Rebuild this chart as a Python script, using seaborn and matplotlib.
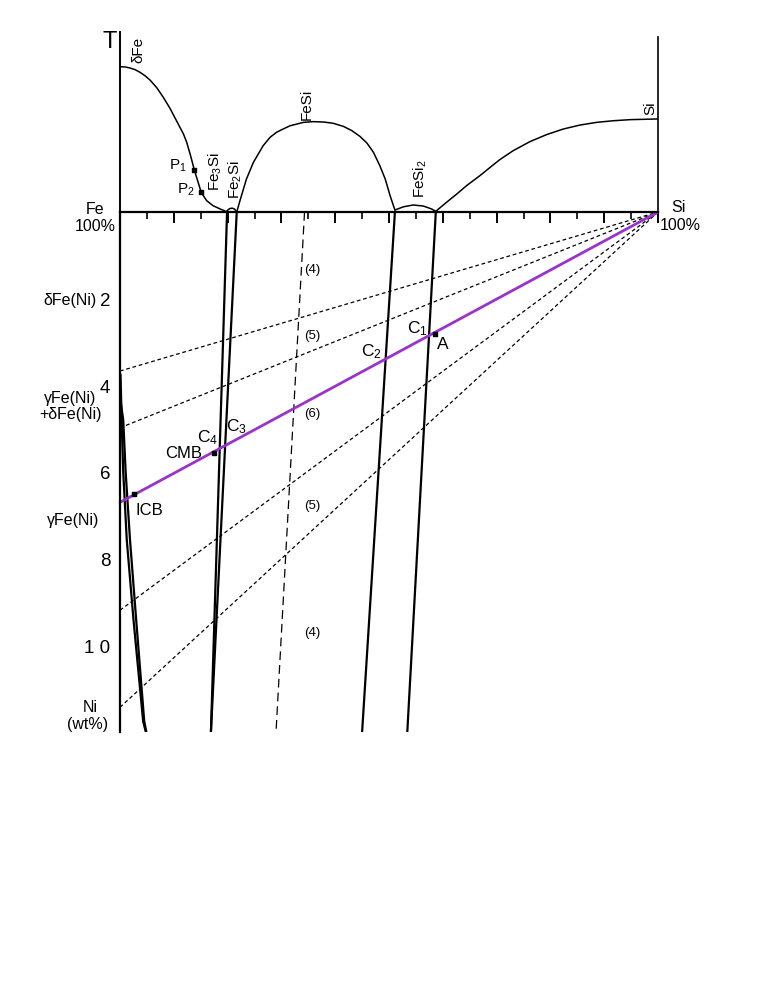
import numpy as np
import pandas as pd
import matplotlib
matplotlib.use('Agg')
import matplotlib.pyplot as plt
import seaborn as sns

# ---- data (Si wt% along x, T arbitrary 0-100 on top, Ni wt% below) ----
# liquidus curves of the Fe-Si phase diagram
dfe_si = [0, 0.93, 1.86, 2.79, 3.72, 4.65, 5.58, 6.82, 8.05, 9.29, 10.5, 11.8,
          12.4, 13.1, 13.8, 15.1, 16.1, 17.3, 18.6, 19.8]
dfe_t = [80.7, 80.6, 80.0, 79.1, 77.6, 75.7, 73.3, 69.1, 63.7, 57.6, 50.7, 43.3,
         38.7, 31.5, 23.5, 10.9, 6.3, 3.5, 1.7, 0.2]
fe3si_si = [19.8, 20.1, 20.5, 20.9, 21.3, 21.7]
fe3si_t = [0.2, 1.3, 2.0, 2.1, 1.6, 0.0]
fesi_si = [21.7, 22.3, 23.5, 24.8, 26.6, 27.9, 29.1, 29.7, 31.6, 34.1, 35.9, 37.8,
           39.6, 41.5, 43.1, 44.6, 45.9, 47.1, 48.3, 49.3, 50.2, 51.1]
fesi_t = [0.0, 6.3, 18.3, 27.6, 36.8, 41.5, 44.3, 45.2, 47.9, 49.8, 50.2, 50.0,
          49.3, 47.6, 45.2, 42.0, 38.3, 33.2, 25.7, 18.3, 9.1, 1.1]
fesi2_si = [51.1, 52.7, 54.5, 56.4, 57.9, 58.7]
fesi2_t = [1.1, 2.9, 3.9, 3.3, 1.7, 0.4]
si_si = [58.7, 60.7, 62.6, 64.4, 66.9, 68.8, 70.6, 73.1, 76.2, 79.3, 82.4, 85.5,
         88.6, 91.7, 94.8, 100]
si_t = [0.4, 5.4, 10.0, 14.6, 20.2, 24.8, 29.1, 34.1, 39.1, 43.0, 46.1, 48.3,
        49.8, 50.7, 51.3, 51.7]
p_si = [13.8, 15.1]
p_t = [23.5, 10.9]

# phase boundaries in the Fe-Ni-Si section
gd_a_si = [0.1, 0.3, 0.6, 1.25, 2.5, 4.3, 4.8]
gd_a_ni = [3.75, 4.8, 6.0, 7.55, 9.4, 11.75, 12]
gd_b_si = [0.1, 0.6, 1.05, 1.85, 3.0, 4.5, 4.9]
gd_b_ni = [4.35, 4.8, 6.0, 7.55, 9.4, 11.75, 12]
fe3si_b_si = [19.9, 16.9]
fe2si_b_si = [21.7, 16.9]
fesi2_a_si = [51.1, 45.0]
fesi2_b_si = [58.7, 53.4]
fesi_b_si = [34.3, 29.0]
b_ni = [0, 12]
fan_ni = [3.67, 4.98, 9.19, 11.43]
core_si = [0, 100]
core_ni = [6.70, 0]
pt_names = ['ICB', 'CMB', 'A']
pt_si = [2.64, 17.5, 58.6]
pt_ni = [6.50, 5.55, 2.81]
region_labels = ['(4)', '(5)', '(6)', '(5)', '(4)']
region_ni = [1.32, 2.85, 4.65, 6.76, 9.70]
ni_major = [2, 4, 6, 8, 10, 12]
ni_labels = ['2', '4', '6', '8', '1 0', '']

sns.set_style('white')
plt.rcParams['font.family'] = ['Liberation Sans', 'DejaVu Sans']
plt.rcParams['mathtext.fontset'] = 'custom'
plt.rcParams['mathtext.rm'] = 'Liberation Sans'
plt.rcParams['mathtext.it'] = 'Liberation Sans:italic'
plt.rcParams['mathtext.bf'] = 'Liberation Sans:bold'
for k in ('text.color', 'axes.labelcolor', 'xtick.color', 'ytick.color'):
    plt.rcParams[k] = 'black'

W, H = 763, 987
fig = plt.figure(figsize=(W / 100, H / 100), dpi=100)


def px(x, y):
    return x / W, 1 - y / H


ax_t = fig.add_axes([120 / W, 1 - 213 / H, 538 / W, 180 / H])
ax = fig.add_axes([120 / W, 1 - 733 / H, 538 / W, 520 / H])
for a in (ax_t, ax):
    a.set_facecolor('none')
    a.set_xlim(0, 100)

# ---- top: T-X diagram ----
ax_t.set_ylim(0, 100)
for xs, ys in [(dfe_si, dfe_t), (fe3si_si, fe3si_t), (fesi_si, fesi_t),
               (fesi2_si, fesi2_t), (si_si, si_t)]:
    sns.lineplot(x=xs, y=ys, ax=ax_t, sort=False, estimator=None,
                 color='black', lw=1.1)
ax_t.scatter(p_si, p_t, marker='s', s=5, color='black', zorder=5)
ax_t.set_xticks([])
ax_t.set_yticks([])
for s in ('top', 'bottom'):
    ax_t.spines[s].set_visible(False)
ax_t.spines['left'].set_linewidth(1.4)
ax_t.spines['left'].set_color('black')
ax_t.spines['right'].set_linewidth(1.2)
ax_t.spines['right'].set_color('black')
ax_t.spines['right'].set_bounds(0, 97.2)

tkw = dict(fontsize=11, ha='center', va='center', rotation=90)
ax_t.text(3.35, 90.6, 'δFe', **tkw)
ax_t.text(17.7, 22.8, 'Fe$_3$Si', **tkw)
ax_t.text(21.4, 18.3, 'Fe$_2$Si', **tkw)
ax_t.text(34.8, 60.6, 'FeSi', **tkw)
ax_t.text(55.9, 19.4, 'FeSi$_2$', **tkw)
ax_t.text(98.5, 58.3, 'Si', **tkw)
ax_t.text(10.8, 26.1, 'P$_1$', fontsize=11, ha='center', va='center')
ax_t.text(12.3, 12.8, 'P$_2$', fontsize=11, ha='center', va='center')

# ---- bottom: Fe-Ni-Si section ----
ax.set_ylim(12, 0)
for xs, ys in [(gd_a_si, gd_a_ni), (gd_b_si, gd_b_ni)]:
    sns.lineplot(x=xs, y=ys, ax=ax, sort=False, estimator=None,
                 color='black', lw=1.6)
for xs in (fe3si_b_si, fe2si_b_si, fesi2_a_si, fesi2_b_si):
    sns.lineplot(x=xs, y=b_ni, ax=ax, sort=False, estimator=None,
                 color='black', lw=1.6)
sns.lineplot(x=fesi_b_si, y=b_ni, ax=ax, sort=False, estimator=None,
             color='black', lw=0.9, linestyle=(0, (7, 4)))
for n in fan_ni:
    sns.lineplot(x=[0, 100], y=[n, 0], ax=ax, sort=False, estimator=None,
                 color='black', lw=0.9, linestyle=(0, (3, 2.2)), clip_on=False)
sns.lineplot(x=core_si, y=core_ni, ax=ax, sort=False, estimator=None,
             color='#9933cc', lw=2.0, clip_on=False)
ax.scatter(pt_si, pt_ni, marker='s', s=10, color='black', zorder=6)

for lab, n in zip(region_labels, region_ni):
    ax.text(35.7, n, lab, fontsize=9.5, ha='center', va='center')

ckw = dict(fontsize=12.5, ha='center', va='center')
ax.text(55.2, 2.66, 'C$_1$', **ckw)
ax.text(60.0, 3.03, 'A', **ckw)
ax.text(46.8, 3.19, 'C$_2$', **ckw)
ax.text(21.7, 4.92, 'C$_3$', **ckw)
ax.text(16.2, 5.19, 'C$_4$', **ckw)
ax.text(15.2, 5.54, 'CMB', fontsize=12, ha='right', va='center')
ax.text(2.8, 6.86, 'ICB', fontsize=12, ha='left', va='center')

# axes, ticks
for s in ('right', 'bottom'):
    ax.spines[s].set_visible(False)
for s in ('top', 'left'):
    ax.spines[s].set_linewidth(1.6)
    ax.spines[s].set_color('black')
ax.xaxis.tick_top()
ax.set_xticks(np.arange(0, 101, 10))
ax.set_xticks(np.arange(5, 100, 10), minor=True)
ax.tick_params(axis='x', which='major', direction='in', length=8, width=1.4,
               labeltop=False, labelbottom=False, color='black')
ax.tick_params(axis='x', which='minor', direction='in', length=5, width=1.2,
               color='black')
ax.set_yticks(ni_major)
ax.set_yticklabels(ni_labels)
ax.set_yticks([v for v in np.arange(0.5, 12, 0.5) if v % 2 != 0], minor=True)
ax.tick_params(axis='y', which='major', direction='in', length=9.5, width=1.4,
               labelsize=13.5, pad=7, color='black', labelcolor='black')
ax.tick_params(axis='y', which='minor', direction='in', length=6, width=1.2,
               color='black')
ax.set_xlabel('')
ax.set_ylabel('')

# labels around the frame
fig.text(*px(110, 42), 'T', fontsize=17, ha='center', va='center')
fig.text(*px(95, 210), 'Fe', fontsize=11.5, ha='center', va='center')
fig.text(*px(95, 227), '100%', fontsize=11.5, ha='center', va='center')
fig.text(*px(678, 208), 'Si', fontsize=11.5, ha='center', va='center')
fig.text(*px(660, 226), '100%', fontsize=11.5, ha='left', va='center')
fig.text(*px(97, 301), 'δFe(Ni)', fontsize=11.5, ha='right', va='center')
fig.text(*px(70, 399), 'γFe(Ni)', fontsize=11.5, ha='center', va='center')
fig.text(*px(70, 415), '+δFe(Ni)', fontsize=11.5, ha='center', va='center')
fig.text(*px(73, 521), 'γFe(Ni)', fontsize=11.5, ha='center', va='center')
fig.text(*px(90, 707), 'Ni', fontsize=11.5, ha='center', va='center')
fig.text(*px(88, 725), '(wt%)', fontsize=11.5, ha='center', va='center')

fig.savefig('out.png', dpi=100, facecolor='white')
